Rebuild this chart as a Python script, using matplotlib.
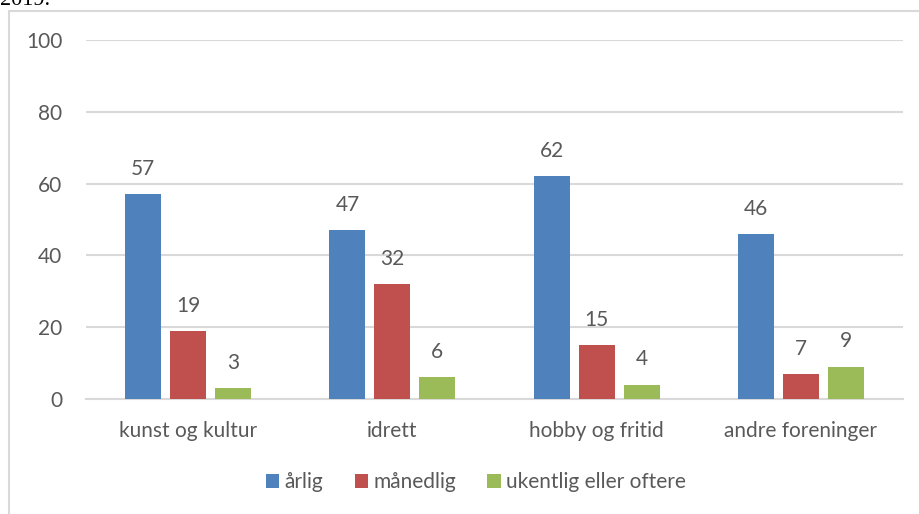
import matplotlib
matplotlib.use("Agg")
import matplotlib.pyplot as plt
from matplotlib.patches import Rectangle
import numpy as np

categories = ["kunst og kultur", "idrett", "hobby og fritid", "andre foreninger"]
series_names = ["årlig", "månedlig", "ukentlig eller oftere"]
arlig = [57, 47, 62, 46]
manedlig = [19, 32, 15, 7]
ukentlig = [3, 6, 4, 9]
yticks = [0, 20, 40, 60, 80, 100]

colors = ["#4f81bd", "#c0504d", "#9bbb59"]
text_color = "#595959"
grid_color = "#d9d9d9"

plt.rcParams['font.family'] = ['Lato', 'DejaVu Sans']
FS = 15

fig = plt.figure(figsize=(9.2, 5.14), dpi=100)
W, H = 920, 514
ax = fig.add_axes([86 / W, 1 - 399 / H, (903 - 86) / W, (399 - 40) / H])

x = np.arange(len(categories))
width = 0.176
offset = 0.22
for i, (vals, name) in enumerate(zip([arlig, manedlig, ukentlig], series_names)):
    pos = x + (i - 1) * offset
    ax.bar(pos, vals, width, color=colors[i], label=name, zorder=3)
    for xp, v in zip(pos, vals):
        ax.annotate(str(v), (xp, v), xytext=(0, 11), textcoords="offset points",
                    ha="center", va="bottom", fontsize=FS, color=text_color)

ax.set_xlim(-0.5, len(categories) - 0.5)
ax.set_ylim(0, 100)
ax.set_yticks(yticks)
ax.set_xticks(x)
ax.set_xticklabels(categories)
ax.tick_params(axis="both", length=0, labelsize=FS, colors=text_color)
ax.tick_params(axis="y", pad=17)
ax.tick_params(axis="x", pad=16)
ax.grid(axis="y", color=grid_color, linewidth=1.5, zorder=0)
for s in ["top", "right", "left"]:
    ax.spines[s].set_visible(False)
ax.spines["bottom"].set_color(grid_color)
ax.spines["bottom"].set_linewidth(1.5)

leg = fig.legend(loc="center", bbox_to_anchor=(476 / W, 1 - 482 / H), ncol=3,
                 frameon=False, fontsize=FS, handlelength=0.65, handleheight=0.65,
                 handletextpad=0.25, columnspacing=1.5)
for t in leg.get_texts():
    t.set_color(text_color)

# chart area border
fig.patches.append(Rectangle((9.5 / W, -0.1), 1.2, 1 - 10.5 / H + 0.1,
                             transform=fig.transFigure, fill=False,
                             edgecolor=grid_color, linewidth=1.5))

fig.text(0.0, 1 - 5 / H, "2019.", family=["Liberation Serif"], fontsize=16,
         color="black", ha="left", va="baseline")

fig.savefig("out.png", dpi=100)
